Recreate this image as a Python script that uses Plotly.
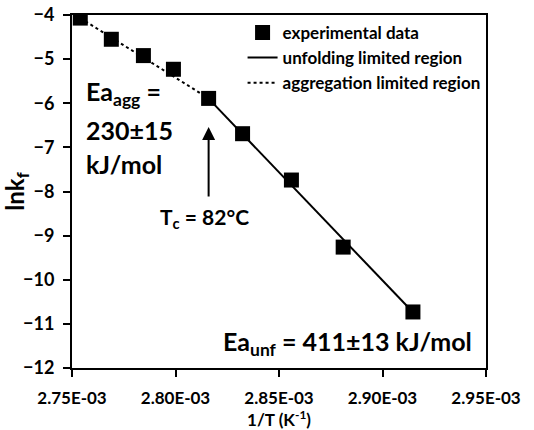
import plotly.graph_objects as go

# Experimental data
inv_T = [2.754e-3, 2.769e-3, 2.7845e-3, 2.799e-3, 2.816e-3, 2.8324e-3, 2.856e-3, 2.881e-3, 2.9147e-3]
ln_kf = [-4.07, -4.55, -4.92, -5.23, -5.89, -6.69, -7.74, -9.26, -10.73]

# Fitted lines (end points)
agg_x = [2.754e-3, 2.816e-3]
agg_y = [-4.07, -5.89]
unf_x = [2.8175e-3, 2.916e-3]
unf_y = [-5.97, -10.80]

x_tickvals = [2.75e-3, 2.80e-3, 2.85e-3, 2.90e-3, 2.95e-3]
x_ticktext = ["2.75E-03", "2.80E-03", "2.85E-03", "2.90E-03", "2.95E-03"]

FONT = "Lato"

fig = go.Figure()
fig.add_trace(go.Scatter(x=agg_x, y=agg_y, mode="lines", name="aggregation limited region",
                         line=dict(color="black", width=2, dash="dot"), legend="legend3",
                         showlegend=True))
fig.add_trace(go.Scatter(x=unf_x, y=unf_y, mode="lines", name="unfolding limited region",
                         line=dict(color="black", width=2), legend="legend2", showlegend=True))
fig.add_trace(go.Scatter(x=inv_T, y=ln_kf, mode="markers", name="experimental data",
                         marker=dict(symbol="square", size=15, color="black"), legend="legend",
                         showlegend=True))

leg_common = dict(xanchor="left", yanchor="middle", bgcolor="rgba(0,0,0,0)",
                  font=dict(family=FONT, size=17, color="black", weight="bold"))
fig.update_layout(
    showlegend=True,
    legend=dict(x=0.412, y=0.949, **leg_common),
    legend2=dict(x=0.412, y=0.878, **leg_common),
    legend3=dict(x=0.412, y=0.807, **leg_common),
)

fig.update_xaxes(range=[2.75e-3, 2.95e-3], tickvals=x_tickvals, ticktext=x_ticktext,
                 showgrid=False, zeroline=False, showline=True, linecolor="black", linewidth=2,
                 mirror=True, ticks="outside", ticklen=7, tickwidth=2, tickcolor="black",
                 automargin=False, ticklabeloverflow="allow", ticklabelstandoff=7,
                 tickfont=dict(family=FONT, size=17, color="black", weight="bold"),
                 title=dict(text="1/T (K<sup>-1</sup>)", standoff=2,
                            font=dict(family=FONT, size=17, color="black", weight="bold")))
fig.update_yaxes(range=[-12, -4], dtick=1, showgrid=False, zeroline=False, showline=True,
                 linecolor="black", linewidth=2, mirror=True, ticks="outside", ticklen=7,
                 tickwidth=2, tickcolor="black", automargin=False, ticklabeloverflow="allow",
                 ticklabelstandoff=5,
                 tickfont=dict(family=FONT, size=18, color="black", weight="bold"),
                 title=dict(text="lnk<sub>f</sub>",
                            font=dict(family=FONT, size=24, color="black", weight="bold")))

ann_font = dict(family=FONT, size=25, color="black", weight="bold")
fig.add_annotation(x=2.7558e-3, y=-5.77, xref="x", yref="y", text="Ea<sub>agg</sub> =",
                   showarrow=False, xanchor="left", yanchor="middle", font=ann_font)
fig.add_annotation(x=2.7558e-3, y=-6.61, xref="x", yref="y", text="230±15",
                   showarrow=False, xanchor="left", yanchor="middle", font=ann_font)
fig.add_annotation(x=2.7558e-3, y=-7.38, xref="x", yref="y", text="kJ/mol",
                   showarrow=False, xanchor="left", yanchor="middle", font=ann_font)
fig.add_annotation(x=2.944e-3, y=-11.44, xref="x", yref="y", text="Ea<sub>unf</sub> = 411±13 kJ/mol",
                   showarrow=False, xanchor="right", yanchor="middle", font=ann_font)
fig.add_annotation(x=2.7916e-3, y=-8.60, xref="x", yref="y", text="T<sub>c</sub> = 82°C",
                   showarrow=False, xanchor="left", yanchor="middle",
                   font=dict(family=FONT, size=21, color="black", weight="bold"))
# arrow
fig.add_annotation(x=2.816e-3, y=-6.54, ax=2.816e-3, ay=-8.15, xref="x", yref="y",
                   axref="x", ayref="y", text="", showarrow=True, arrowhead=2,
                   arrowsize=1.3, arrowwidth=2, arrowcolor="black")

fig.update_layout(width=534, height=430, margin=dict(l=72, r=48, t=15, b=62, autoexpand=False),
                  plot_bgcolor="white", paper_bgcolor="white",
                  font=dict(family=FONT, color="black"))

fig.write_html("out.html", config={"displayModeBar": False},
               post_script="document.body.style.margin='0';document.body.style.overflow='hidden';")
